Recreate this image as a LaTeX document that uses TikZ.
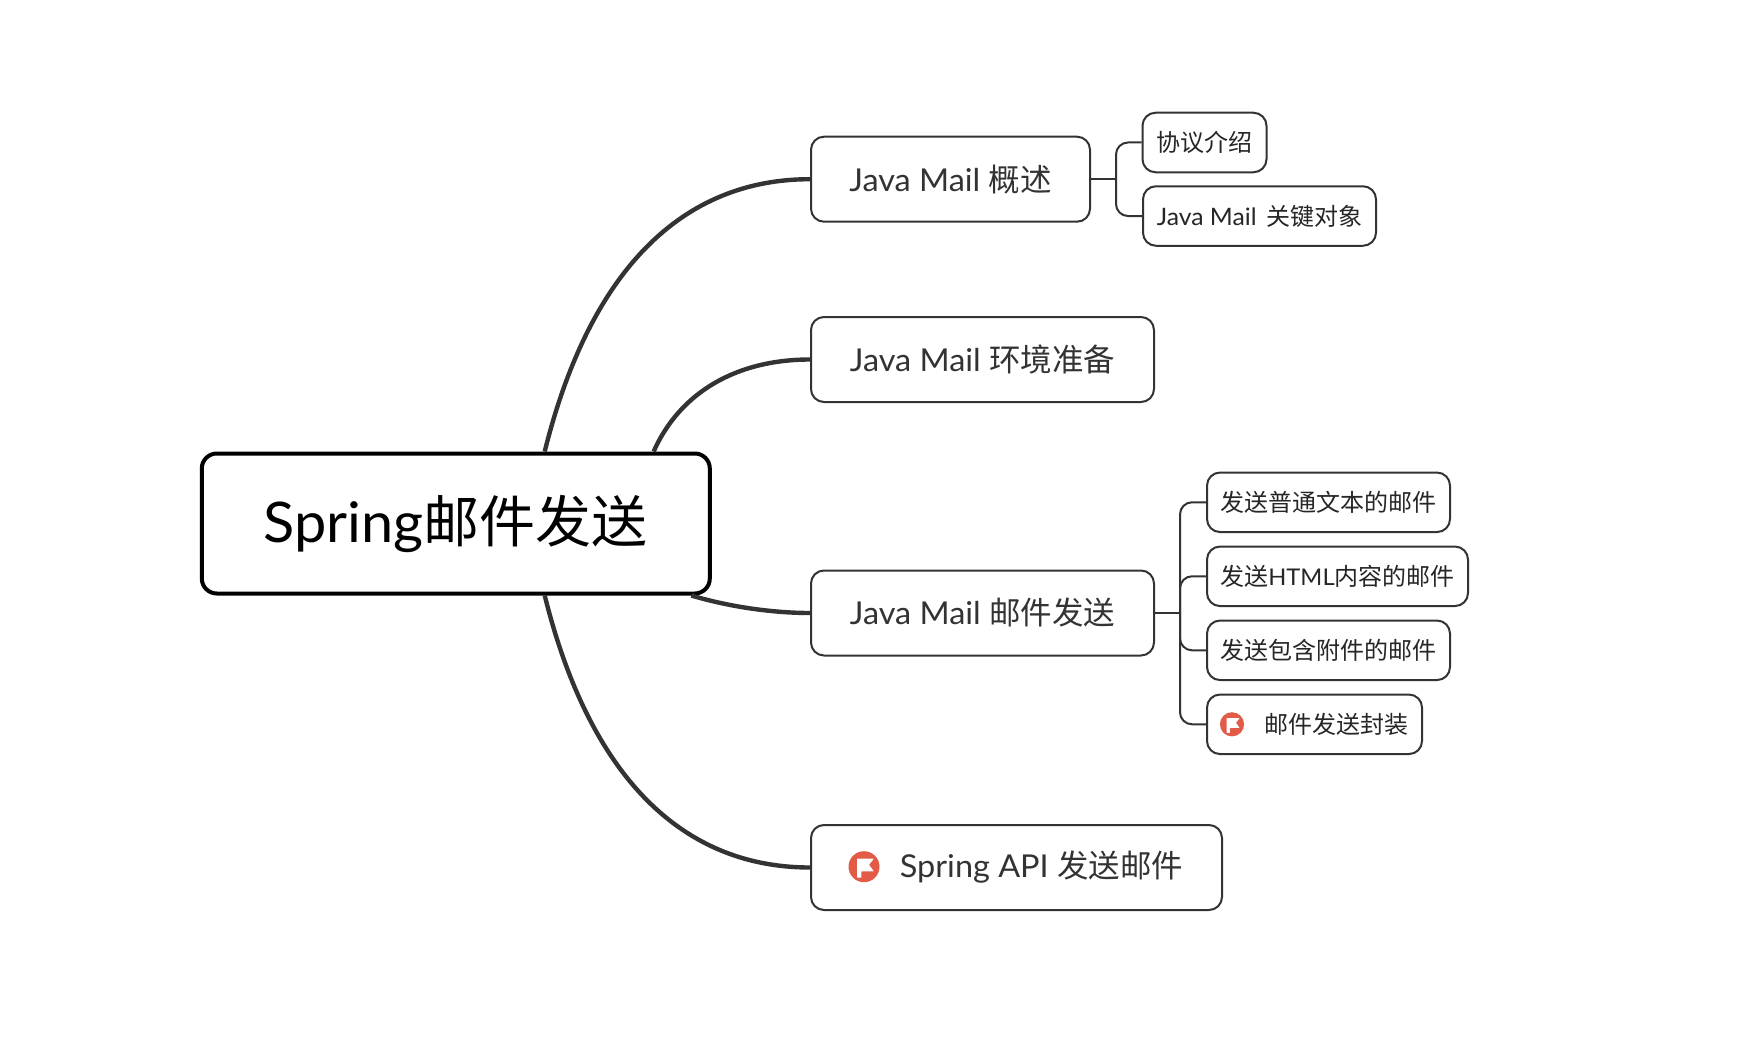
\documentclass[tikz,border=0pt]{standalone}
\usepackage{fontspec}
\setmainfont{Lato}[FakeStretch=1.03]
\newfontfamily\cjk{Noto Sans CJK SC}
\newcommand{\zh}[1]{{\cjk #1}}
\definecolor{ink}{HTML}{333333}
\definecolor{flagred}{HTML}{E25B47}
\newcommand{\flagicon}[2]{%
  \begin{scope}[shift={(#1)},scale=#2]
    \fill[flagred] (0,0) circle (15.5);
    \fill[white,rounded corners=0.5] (-7,-8) -- (9.8,-8) -- (5,-2) -- (9.8,4.6) -- (-2.6,4.6) -- (-2.6,11) -- (-7,11) -- cycle;
  \end{scope}}
\tikzset{
  x=1pt,y=-1pt,
  rootbox/.style={draw=black,line width=4pt,rounded corners=15pt,fill=white,inner sep=0pt,text=black,font=\fontsize{56}{60}\selectfont},
  topicbox/.style={draw=ink,line width=2pt,rounded corners=13pt,fill=white,inner sep=0pt,text=ink,font=\fontsize{31.5}{36}\selectfont},
  subbox/.style={draw=ink,line width=2pt,rounded corners=13pt,fill=white,inner sep=0pt,text=black!85,font=\fontsize{24}{28}\selectfont},
  curvelink/.style={draw=ink,line width=4.4pt},
  elbow/.style={draw=ink,line width=2pt,rounded corners=12pt},
  stem/.style={draw=ink,line width=2pt},
}
\begin{document}
\begin{tikzpicture}
\useasboundingbox (0,0) rectangle (1756,1054);
\node[rootbox,minimum width=508pt,minimum height=140pt] (root) at (455.8,523.5) {\raisebox{-1.5pt}{Spring\zh{邮件发送}}};
\node[topicbox,minimum width=279pt,minimum height=85pt] (t1) at (950.5,179.2) {Java Mail \zh{概述}};
\node[topicbox,minimum width=343pt,minimum height=85pt] (t2) at (982.5,359.5) {Java Mail \zh{环境准备}};
\node[topicbox,minimum width=343pt,minimum height=85pt] (t3) at (982.5,613) {Java Mail \zh{邮件发送}};
\node[topicbox,minimum width=411pt,minimum height=85pt] (t4) at (1016.5,867.5) {\hspace*{50pt}\raisebox{-1pt}{Spring API \zh{发送邮件}}};
\node[subbox,minimum width=124pt,minimum height=59.5pt] (a1) at (1204.5,142.5) {\zh{协议介绍}};
\node[subbox,minimum width=233pt,minimum height=59.5pt] (a2) at (1259.5,216) {Java Mail\hspace{9.5pt}\zh{关键对象}};
\node[subbox,minimum width=243pt,minimum height=59.5pt] (b1) at (1328.5,502.3) {\zh{发送普通文本的邮件}};
\node[subbox,minimum width=261pt,minimum height=59.5pt] (b2) at (1337.5,576.3) {\zh{发送}{\fontsize{23}{28}\selectfont HTML}\zh{内容的邮件}};
\node[subbox,minimum width=243pt,minimum height=59.5pt] (b3) at (1328.5,650.3) {\zh{发送包含附件的邮件}};
\node[subbox,minimum width=215pt,minimum height=59.5pt] (b4) at (1314.5,724.3) {\hspace*{43pt}\zh{邮件发送封装}};
\flagicon{864,866.7}{1}
\flagicon{1232,724.3}{0.78}
\draw[curvelink] (root.39.3) .. controls (590,269) and (683,179.2) .. (t1.west);
\draw[curvelink] (root.20.85) .. controls (680,392) and (737,359.5) .. (t2.west);
\draw[curvelink] (root.-17.1) .. controls (730,607) and (773,613) .. (t3.west);
\draw[curvelink] (root.-39.3) .. controls (590,778) and (683,867.5) .. (t4.west);
\draw[stem] (t1.east) -- ++(25,0) coordinate (j1);
\draw[elbow] (j1) |- (a1.west);
\draw[elbow] (j1) |- (a2.west);
\draw[stem] (t3.east) -- ++(25,0) coordinate (j3);
\draw[elbow] (j3) |- (b1.west);
\draw[elbow] (j3) |- (b2.west);
\draw[elbow] (j3) |- (b3.west);
\draw[elbow] (j3) |- (b4.west);
\end{tikzpicture}
\end{document}
